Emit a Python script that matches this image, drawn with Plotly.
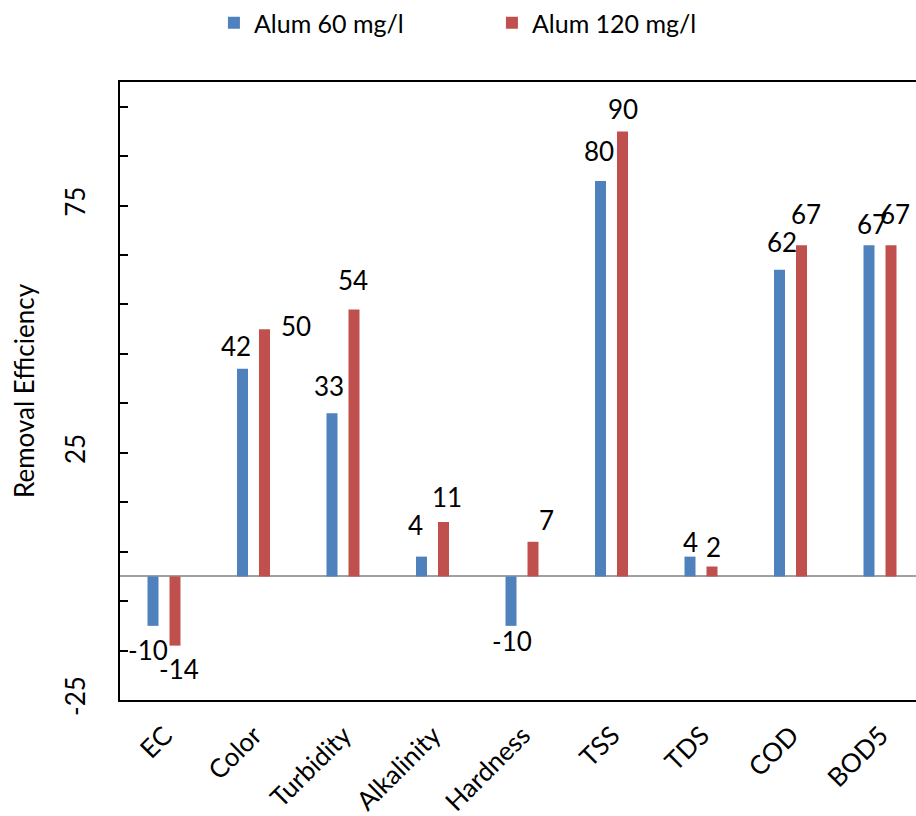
import numpy as np
import plotly.graph_objects as go

categories = ["EC", "Color", "Turbidity", "Alkalinity", "Hardness", "TSS", "TDS", "COD", "BOD5"]
alum60 = [-10, 42, 33, 4, -10, 80, 4, 62, 67]
alum120 = [-14, 50, 54, 11, 7, 90, 2, 67, 67]
series_names = ["Alum 60 mg/l", "Alum 120 mg/l"]

y_tick_values = list(range(-25, 96, 10))
y_tick_labels = ["-25" if v == -25 else "25" if v == 25 else "75" if v == 75 else "" for v in y_tick_values]

# ---- style ----
FONT = "Lato"
BLUE = "#4F81BD"
RED = "#C0504D"
W, H = 916, 816
L, R, T, B = 120, 0, 81, 116
cat_px = 89.5
plot_w = W - L - R
x_end = -0.5 + plot_w / cat_px
bar_w = 11 / cat_px
off_blue = -17.25 / cat_px
off_red = 4.75 / cat_px

# label nudges (px): (dx, distance from bar end)
nudge_blue = [(-5, 26), (-6.5, 21), (-3.5, 25), (-6.5, 30), (1, 17), (-1.5, 28), (0, 13), (2.5, 26), (3, 19)]
nudge_red = [(4, 25), (31.5, 1), (-1, 27), (3, 23), (13.5, 20), (0.5, 20), (1.5, 18), (4.5, 29), (4, 29)]

fig = go.Figure()
fig.add_trace(go.Bar(x=categories, y=alum60, name=series_names[0], marker_color=BLUE,
                     marker_line_width=0, width=bar_w, offset=off_blue))
fig.add_trace(go.Bar(x=categories, y=alum120, name=series_names[1], marker_color=RED,
                     marker_line_width=0, width=bar_w, offset=off_red))

ann = []
for vals, off, nudges in ((alum60, off_blue, nudge_blue), (alum120, off_red, nudge_red)):
    for i, v in enumerate(vals):
        dx, d = nudges[i]
        ann.append(dict(x=i + off + bar_w / 2, y=v, xref="x", yref="y", text=str(v),
                        showarrow=False, xanchor="center", yanchor="middle",
                        xshift=dx, yshift=(d + 2) if v >= 0 else -(d - 2),
                        font=dict(family=FONT, size=26, color="black")))
ann.append(dict(x=(24 - L) / plot_w, y=0.5, xref="paper", yref="paper", text="Removal Efficiency",
                textangle=-90, showarrow=False, xanchor="center", yanchor="middle",
                font=dict(family=FONT, size=26, color="black")))

fig.update_layout(
    width=W, height=H,
    margin=dict(l=L, r=R, t=T, b=B),
    paper_bgcolor="white", plot_bgcolor="white",
    barmode="overlay",
    font=dict(family=FONT, size=25, color="black"),
    showlegend=True,
    legend=dict(orientation="h", x=0.118, xanchor="left", y=1.095, yanchor="middle",
                font=dict(family=FONT, size=25), entrywidth=233, bgcolor="rgba(0,0,0,0)"),
    annotations=ann,
    xaxis=dict(type="category", range=[-0.5, x_end], showline=True, linecolor="black", linewidth=2,
               mirror=True, ticks="", tickangle=-45, showgrid=False, zeroline=False,
               ticklabelstandoff=8, tickfont=dict(family=FONT, size=26)),
    yaxis=dict(range=[-25, 100], tickvals=y_tick_values, ticktext=y_tick_labels, ticks="inside",
               ticklen=8, tickwidth=2, tickcolor="black", showline=True, linecolor="black",
               linewidth=2, showgrid=False, zeroline=True, zerolinecolor="#a0a0a0",
               zerolinewidth=2, tickangle=-90, ticklabelstandoff=23,
               tickfont=dict(family=FONT, size=26)),
)

fig.write_html("out.html")
